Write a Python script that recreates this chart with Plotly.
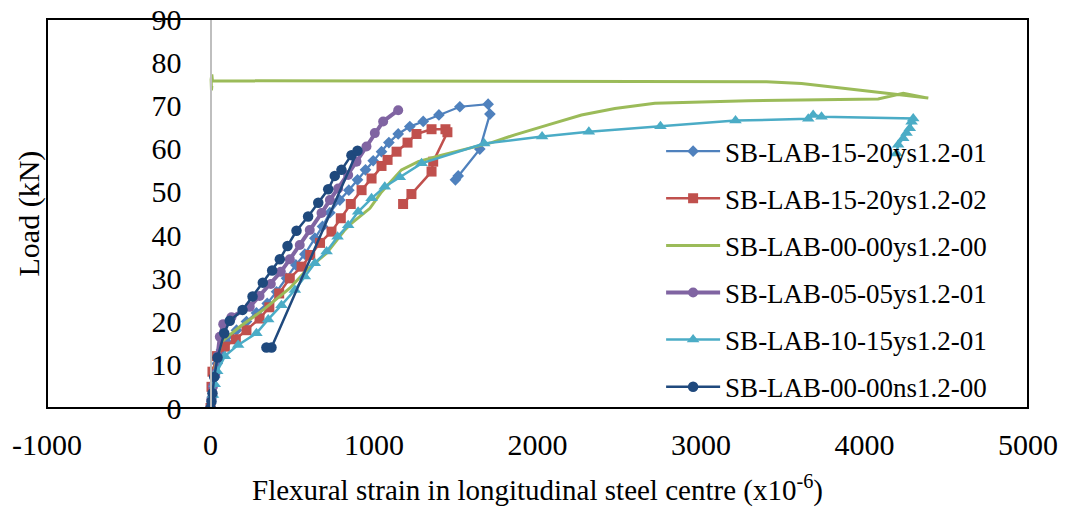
import plotly.graph_objects as go

# ---- data (strain x10^-6, load kN) ----
s1_x = [0, 12, 26, 41, 67, 98, 159, 220, 281, 347, 404, 465, 522, 577, 638, 685, 730, 791, 846, 899, 948, 995, 1046, 1091, 1148, 1219, 1301, 1397, 1525, 1698, 1709, 1647, 1515, 1498]
s1_y = [0, 2.6, 7.2, 10.3, 13.4, 15.3, 18.0, 20.0, 22.0, 24.2, 26.9, 30.0, 33.1, 35.6, 39.3, 42.0, 45.2, 48.1, 50.4, 52.8, 55.1, 57.2, 59.3, 61.4, 63.4, 65.1, 66.3, 67.8, 69.7, 70.3, 68.0, 59.9, 53.7, 52.8]

s2_x = [0, 6, 12, 40, 88, 155, 220, 300, 360, 420, 485, 557, 610, 670, 740, 797, 858, 924, 985, 1046, 1083, 1138, 1205, 1260, 1352, 1437, 1449, 1362, 1352, 1229, 1178]
s2_y = [0, 4.9, 8.4, 12.0, 14.2, 15.9, 18.0, 20.7, 23.3, 26.5, 30.0, 32.7, 35.4, 38.2, 40.8, 43.9, 47.2, 50.4, 53.1, 56.0, 57.4, 59.3, 61.4, 63.4, 64.5, 64.5, 63.8, 57.0, 54.7, 49.5, 47.2]

s3_x = [0, 10, 30, 67, 179, 322, 485, 587, 710, 822, 862, 975, 1046, 1168, 1270, 1413, 1719, 1861, 2065, 2269, 2473, 2718, 3289, 4083, 4237, 4390, 3615, 3401, 12, 8, 4, 6, 8]
s3_y = [0, 5.0, 10.0, 15.3, 18.8, 22.7, 27.7, 31.9, 35.8, 41.2, 42.7, 46.2, 50.0, 55.1, 57.0, 58.5, 61.4, 63.2, 65.5, 67.8, 69.3, 70.5, 71.1, 71.5, 72.8, 71.7, 75.1, 75.5, 75.7, 77.2, 76.0, 73.5, 74.5]

s4_x = [0, 5, 15, 30, 45, 57, 78, 128, 240, 300, 369, 430, 485, 546, 607, 679, 730, 781, 842, 893, 954, 1005, 1056, 1148]
s4_y = [0, 2.0, 5.0, 8.0, 12.0, 16.5, 19.4, 21.0, 23.4, 25.9, 28.7, 31.5, 34.4, 37.7, 41.2, 45.1, 48.1, 50.8, 53.9, 57.0, 60.5, 63.6, 66.3, 68.9]

s5_x = [0, 15, 26, 41, 88, 169, 281, 353, 434, 516, 577, 638, 710, 777, 842, 903, 985, 1066, 1158, 1291, 1674, 2028, 2314, 2752, 3211, 3656, 3686, 3737, 4298, 4288, 4277, 4257, 4237, 4206, 4196]
s5_y = [0, 3.0, 5.5, 8.5, 12.0, 14.6, 17.3, 20.5, 23.8, 27.3, 30.4, 33.5, 36.2, 39.6, 42.3, 45.4, 48.5, 51.2, 53.4, 56.6, 61.2, 62.8, 63.9, 65.2, 66.5, 66.9, 67.8, 67.4, 67.0, 66.2, 64.7, 63.6, 62.4, 60.9, 58.9]

s6_x = [0, 6, 12, 23, 43, 84, 118, 196, 257, 320, 377, 424, 471, 526, 597, 659, 720, 760, 801, 862, 899, 373, 342]
s6_y = [0, 1.5, 3.4, 7.2, 11.7, 17.3, 20.2, 22.7, 25.8, 29.0, 31.8, 34.4, 37.5, 41.0, 44.3, 47.5, 50.6, 53.7, 55.1, 58.5, 59.5, 14.0, 14.0]

names = ["SB-LAB-15-20ys1.2-01", "SB-LAB-15-20ys1.2-02", "SB-LAB-00-00ys1.2-00",
         "SB-LAB-05-05ys1.2-01", "SB-LAB-10-15ys1.2-01", "SB-LAB-00-00ns1.2-00"]
colors = ["#4F81BD", "#C0504D", "#9BBB59", "#8064A2", "#4BACC6", "#1F497D"]
x_ticks = [-1000, 0, 1000, 2000, 3000, 4000, 5000]
y_ticks = [0, 10, 20, 30, 40, 50, 60, 70, 80, 90]

FONT = "Times New Roman, Liberation Serif, serif"

fig = go.Figure()
specs = [
    (s1_x, s1_y, "lines+markers", dict(symbol="diamond", size=9), 2.25),
    (s2_x, s2_y, "lines+markers", dict(symbol="square", size=10), 2.5),
    (s3_x, s3_y, "lines", None, 3),
    (s4_x, s4_y, "lines+markers", dict(symbol="circle", size=10), 4),
    (s5_x, s5_y, "lines+markers", dict(symbol="triangle-up", size=11), 2.5),
    (s6_x, s6_y, "lines+markers", dict(symbol="circle", size=10.5), 2.5),
]
for i, (xs, ys, mode, mk, lw) in enumerate(specs):
    kw = dict(x=xs, y=ys, mode=mode, name=names[i], legendgroup=f"g{i}",
              line=dict(color=colors[i], width=lw))
    if mk:
        kw["marker"] = dict(color=colors[i], **mk)
    fig.add_trace(go.Scatter(**kw))

fig.update_layout(
    width=1068, height=510,
    margin=dict(l=47, r=40, t=19, b=102, autoexpand=False),
    paper_bgcolor="white", plot_bgcolor="white",
    font=dict(family=FONT, color="black", size=28),
    showlegend=True,
    legend=dict(x=0.626, y=0.722, xanchor="left", yanchor="top",
                font=dict(family=FONT, size=27, color="black"),
                bgcolor="rgba(255,255,255,0)", borderwidth=0,
                tracegroupgap=9, traceorder="grouped", itemwidth=54),
    xaxis=dict(range=[-1000, 5000], tickvals=x_ticks, ticktext=[str(v) for v in x_ticks],
               showgrid=False, zeroline=False, showline=False, automargin=False,
               ticks="", ticklabelstandoff=16,
               tickfont=dict(family=FONT, size=30),
               title=dict(text="Flexural strain in longitudinal steel centre (x10<sup>-6</sup>)",
                          font=dict(family=FONT, size=29), standoff=19)),
    yaxis=dict(range=[0, 90], tickvals=y_ticks, showgrid=False, zeroline=False,
               anchor="free", position=1/6, showline=True, linecolor="#BFBFBF", linewidth=2,
               ticks="", ticklabelstandoff=22, automargin=False,
               tickfont=dict(family=FONT, size=30)),
)
fig.add_shape(type="rect", xref="paper", yref="paper", x0=0, x1=1, y0=0, y1=1,
              line=dict(color="black", width=2), layer="above")
fig.add_annotation(text="Load (kN)", xref="paper", yref="paper",
                   x=(28 - 47) / 981, y=0.5, xanchor="center", yanchor="middle",
                   textangle=-90, showarrow=False, font=dict(family=FONT, size=30))

fig.write_html("out.html")
